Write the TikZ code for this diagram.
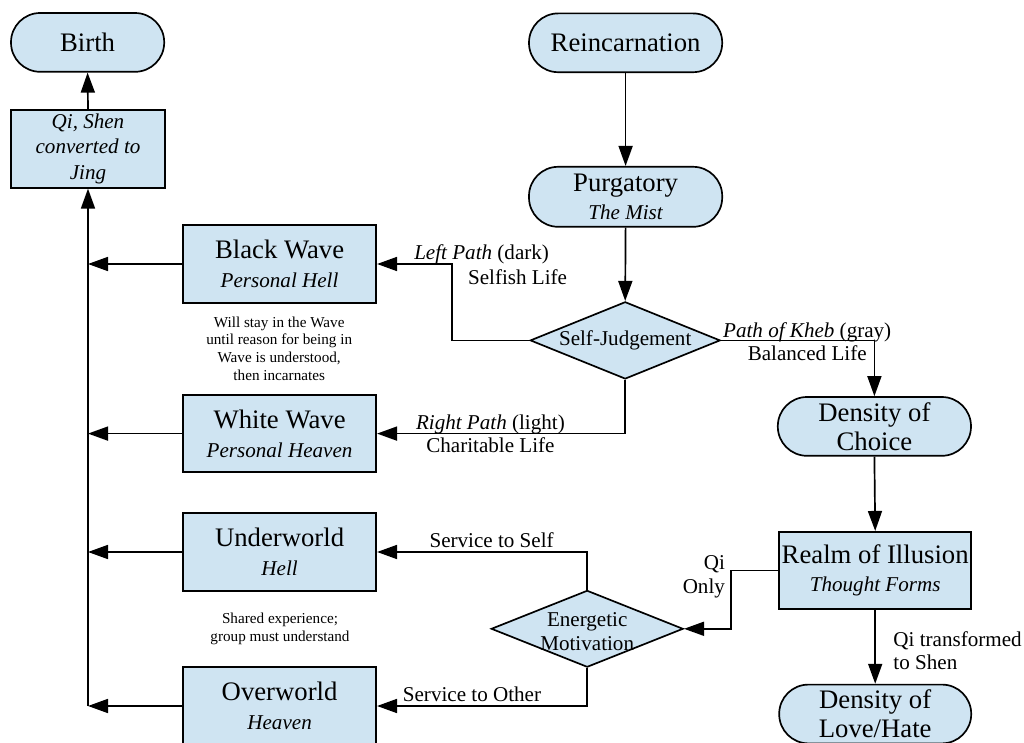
\documentclass[tikz,border=0pt]{standalone}
\usepackage{fontspec}
\setmainfont{Liberation Serif}
\usetikzlibrary{arrows.meta}
\usetikzlibrary{shapes.geometric}
\usetikzlibrary{calc}

\definecolor{boxblue}{RGB}{207,228,242}

\newcommand{\bigtxt}{\fontsize{19}{20.5}\selectfont}
\newcommand{\subtxt}{\fontsize{15}{18}\selectfont\itshape}
\newcommand{\lbltxt}{\fontsize{15}{16.5}\selectfont}
\newcommand{\notetxt}{\fontsize{10.8}{12.8}\selectfont}

\begin{document}
\begin{tikzpicture}[
    terminal/.style={draw, fill=boxblue, line width=1.2pt, rounded corners=0.73cm,
        minimum width=4.83cm, minimum height=1.47cm, inner sep=0pt, align=center, font=\bigtxt},
    process/.style={draw, fill=boxblue, line width=1.2pt,
        minimum width=4.83cm, minimum height=1.95cm, inner sep=0pt, align=center, font=\bigtxt},
    decision/.style={draw, fill=boxblue, line width=1.2pt, diamond,
        minimum width=4.8cm, minimum height=1.92cm, inner sep=0pt},
    lbl/.style={inner sep=0pt, align=center, font=\lbltxt},
    note/.style={inner sep=0pt, align=center, font=\notetxt},
    arr/.style={-{Triangle[length=0.5cm,width=0.35cm]}, line width=1.2pt}
]
    \useasboundingbox (0,0) rectangle (25.6,18.55);

    % Left column
    \node[terminal, minimum width=3.83cm] (birth) at (2.19,17.49) {Birth};
    \node[process, minimum width=3.85cm, font=\subtxt] (qi) at (2.2,14.83) {Qi, Shen\\converted to\\Jing};
    \node[process] (bw) at (6.99,11.95) {Black Wave\\{\subtxt Personal Hell}};
    \node[process, minimum height=1.93cm] (ww) at (6.99,7.71) {White Wave\\{\subtxt Personal Heaven}};
    \node[process] (uw) at (6.99,4.75) {Underworld\\{\subtxt Hell}};
    \node[process] (ow) at (6.99,0.9) {Overworld\\{\subtxt Heaven}};

    \node[note] (bwnote) at (6.98,9.83) {Will stay in the Wave\\until reason for being in\\Wave is understood,\\then incarnates};
    \node[note] (uwnote) at (7.0,2.83) {Shared experience;\\group must understand};

    % Middle column
    \node[terminal] (rein) at (15.64,17.48) {Reincarnation};
    \node[terminal, minimum height=1.5cm] (purg) at (15.64,13.63) {Purgatory\\{\subtxt The Mist}};
    \node[decision, minimum width=4.75cm, minimum height=1.93cm] (sj) at (15.63,10.04) {};
    \node[lbl] (sjtext) at (sj) {Self-Judgement};
    \node[decision] (em) at (14.68,2.83) {};
    \node[lbl, font=\fontsize{15}{17.5}\selectfont] (emtext) at (14.68,2.76) {Energetic\\Motivation};

    % Right column
    \node[terminal] (doc) at (21.86,7.89) {Density of\\Choice};
    \node[process, minimum width=4.8cm, minimum height=1.93cm] (realm) at (21.88,4.29) {Realm of Illusion\\{\subtxt Thought Forms}};
    \node[terminal, minimum width=4.8cm] (lh) at (21.88,0.7) {Density of\\Love/Hate};

    % Bends
    \coordinate (lp) at (11.3,0);
    \coordinate (qo) at (18.28,0);

    % Connectors
    \draw[arr] (qi.north) -- (birth.south);
    \draw[arr] (rein.south) -- (purg.north);
    \draw[arr] (purg.south) -- (sj.north);
    \draw[arr] (sj.west) -- (sj.west -| lp) |- (bw.east);
    \draw[arr] (sj.south) |- (ww.east);
    \draw[arr] (sj.east) -| (doc.north);
    \draw[arr] (doc.south) -- (realm.north);
    \draw[arr] (realm.south) -- (lh.north);
    \draw[arr] (realm.west) -- (realm.west -| qo) |- (em.east);
    \draw[arr] (em.north) |- (uw.east);
    \draw[arr] (em.south) |- (ow.east);

    % Return to birth
    \draw[arr] (qi.south |- ow.west) -- (qi.south);
    \draw[arr] (bw.west) -- (bw.west -| qi.south);
    \draw[arr] (ww.west) -- (ww.west -| qi.south);
    \draw[arr] (uw.west) -- (uw.west -| qi.south);
    \draw[arr] (ow.west) -- (ow.west -| qi.south);

    % Path labels
    \node[lbl] (lpa) at (12.04,12.2) {\textit{Left Path} (dark)};
    \node[lbl] (lpb) at (12.94,11.63) {Selfish Life};
    \node[lbl] (rp) at (12.26,7.7) {\textit{Right Path} (light)\\Charitable Life};
    \node[lbl] (kp) at (20.18,10.01) {\textit{Path of Kheb} (gray)\\Balanced Life};
    \node[lbl] (sts) at (12.29,5.05) {Service to Self};
    \node[lbl] (sto) at (11.8,1.2) {Service to Other};
    \node[lbl, align=right, anchor=east] (qio) at (18.13,4.13) {Qi\\Only};
    \node[lbl, align=left, anchor=west] (qts) at (22.33,2.28) {Qi transformed\\to Shen};

\end{tikzpicture}
\end{document}
